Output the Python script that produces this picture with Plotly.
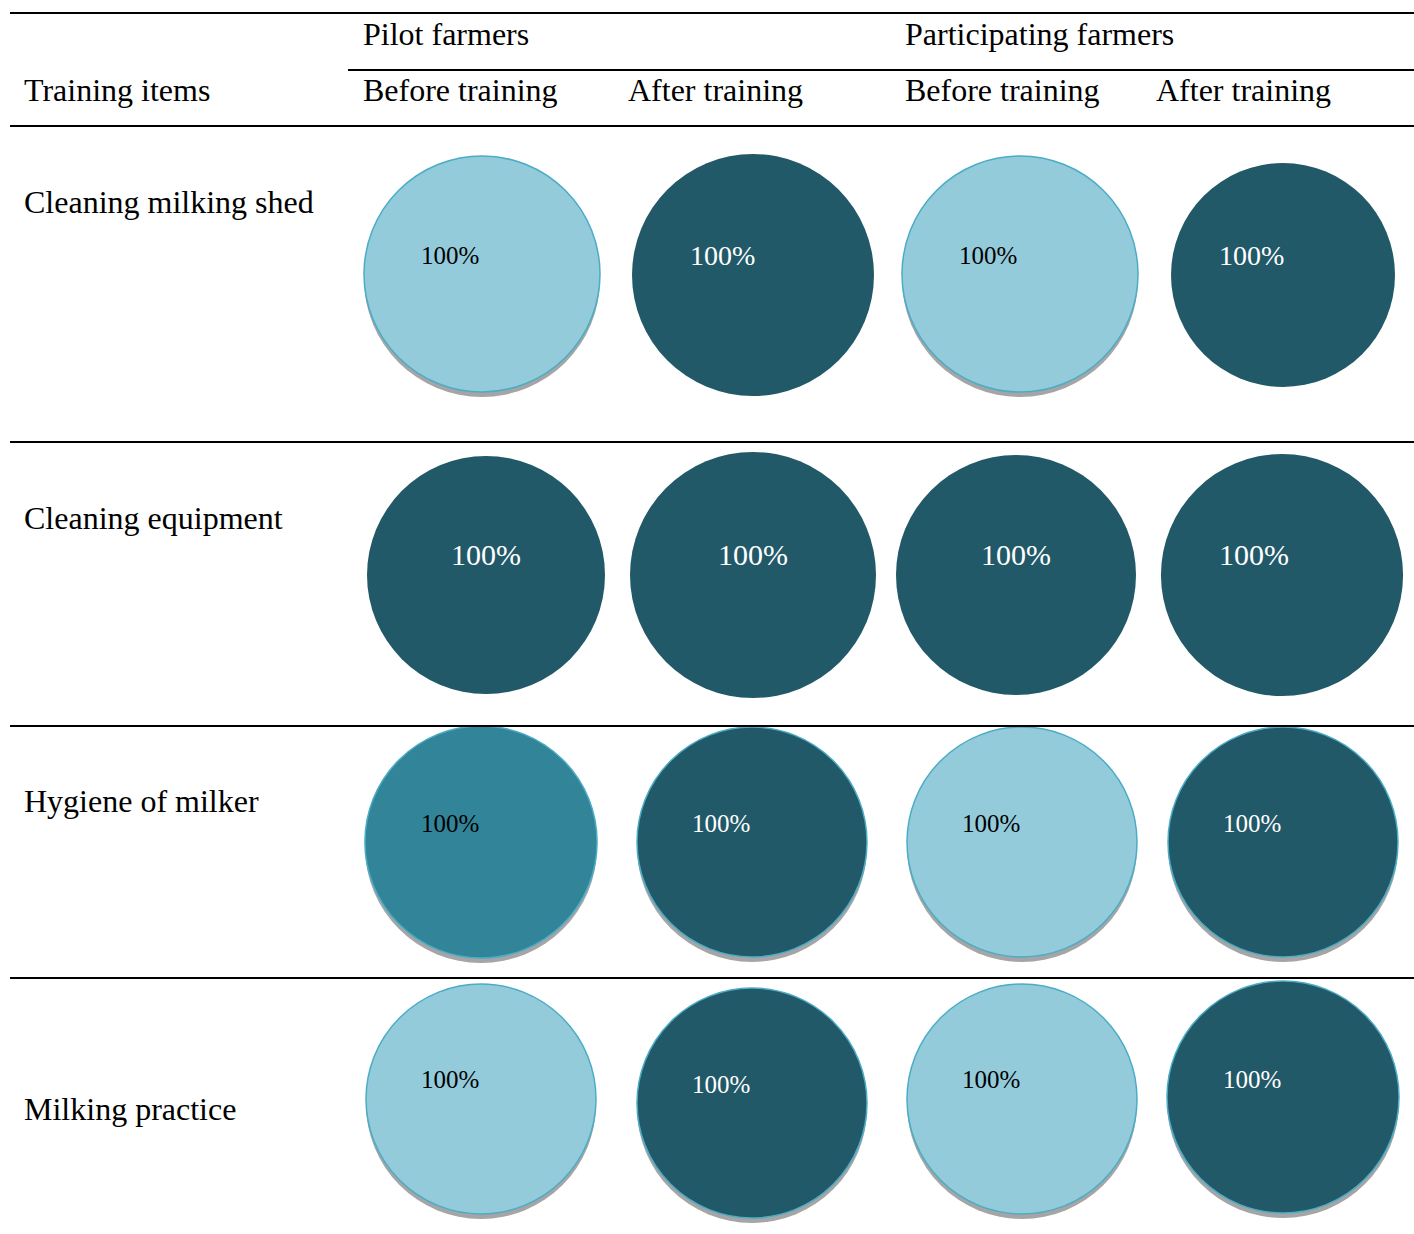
import plotly.graph_objects as go

# ---------------- data ----------------
items = ["Cleaning milking shed", "Cleaning equipment", "Hygiene of milker", "Milking practice"]
groups = ["Pilot farmers", "Participating farmers"]
stages = ["Before training", "After training"]
row_header = "Training items"
# percentage of farmers per cell (row = item, col = group x stage)
percents = [
    [100, 100, 100, 100],
    [100, 100, 100, 100],
    [100, 100, 100, 100],
    [100, 100, 100, 100],
]
# colour class per cell
tones = [
    ["light", "dark", "light", "dark"],
    ["dark", "dark", "dark", "dark"],
    ["mid", "dark", "light", "dark"],
    ["light", "dark", "light", "dark"],
]

# ---------------- styling / layout ----------------
W, H = 1414, 1234
FONT = "Liberation Serif, Times New Roman, serif"
fill = {"light": "#93CBDB", "dark": "#225968", "mid": "#328599"}
txtc = {"light": "#000000", "dark": "#FFFFFF", "mid": "#000000"}
edge = "#4BACC6"

# pixel geometry of each cell (centre x, centre y, radius)
geom = [
    [(482, 274, 118), (753, 275, 121), (1020, 274, 118), (1283, 275, 112)],
    [(486, 575, 119), (753, 575, 123), (1016, 575, 120), (1282, 575, 121)],
    [(481, 842, 116), (752, 842, 115), (1022, 842, 115), (1283, 842, 115)],
    [(481, 1099, 115), (752, 1103, 115), (1022, 1099, 115), (1283, 1097, 116)],
]
label_pos = [
    [(450, 255), (722, 255), (988, 255), (1251, 255)],
    [(486, 554), (753, 554), (1016, 554), (1254, 554)],
    [(450, 823), (721, 823), (991, 823), (1252, 823)],
    [(450, 1079), (721, 1084), (991, 1079), (1252, 1079)],
]
label_size = [[25, 28, 25, 28], [30, 30, 30, 30], [25, 25, 25, 25], [25, 25, 25, 25]]
bordered = [[True, False, True, False], [False, False, False, False],
            [True, True, True, True], [True, True, True, True]]

def px(x):
    return x / W

def py(y):
    return 1 - y / H

fig = go.Figure()
annotations = []

for i, item in enumerate(items):
    for j in range(4):
        cx, cy, r = geom[i][j]
        tone = tones[i][j]
        if bordered[i][j]:
            sy = cy + 5
            fig.add_trace(go.Pie(
                values=[percents[i][j]], labels=["shadow"], sort=False,
                domain=dict(x=[px(cx - r), px(cx + r)], y=[py(sy + r), py(sy - r)]),
                marker=dict(colors=["#A5A5A5"], line=dict(width=0)),
                textinfo="none", hoverinfo="skip", showlegend=False,
            ))
        fig.add_trace(go.Pie(
            values=[percents[i][j]], labels=[f"{item} - {groups[j // 2]} - {stages[j % 2]}"],
            sort=False,
            domain=dict(x=[px(cx - r), px(cx + r)], y=[py(cy + r), py(cy - r)]),
            marker=dict(colors=[fill[tone]],
                        line=dict(color=edge if bordered[i][j] else fill[tone],
                                  width=1.5 if bordered[i][j] else 0)),
            textinfo="none", showlegend=False,
        ))
        lx, ly = label_pos[i][j]
        annotations.append(dict(
            x=px(lx), y=py(ly), xref="paper", yref="paper", showarrow=False,
            text=f"{percents[i][j]}%", xanchor="center", yanchor="middle",
            font=dict(family=FONT, size=label_size[i][j], color=txtc[tone]),
        ))

# header texts
hdr_font = dict(family=FONT, size=32, color="#000000")
def add_text(t, x, y):
    annotations.append(dict(x=px(x), y=py(y), xref="paper", yref="paper", showarrow=False,
                            text=t, xanchor="left", yanchor="middle", font=hdr_font))

add_text(groups[0], 361, 34)
add_text(groups[1], 903, 34)
add_text(row_header, 22, 90)
add_text(stages[0], 361, 90)
add_text(stages[1], 626, 90)
add_text(stages[0], 903, 90)
add_text(stages[1], 1154, 90)
row_label_y = [202, 518, 801, 1109]
for item, yy in zip(items, row_label_y):
    add_text(item, 22, yy)

# table rules
shapes = []
def hline(x0, x1, y, w=2):
    shapes.append(dict(type="line", xref="paper", yref="paper",
                       x0=px(x0), x1=px(x1), y0=py(y), y1=py(y),
                       line=dict(color="#000000", width=w)))

hline(10, 1414, 13)
hline(348, 1414, 70)
hline(10, 1414, 126)
hline(10, 1414, 442)
hline(10, 1414, 726)
hline(10, 1414, 978)

fig.update_layout(
    width=W, height=H,
    margin=dict(l=0, r=0, t=0, b=0),
    paper_bgcolor="#FFFFFF", plot_bgcolor="#FFFFFF",
    annotations=annotations, shapes=shapes,
    showlegend=False,
)

fig.write_html("out.html",
               config={"displayModeBar": False},
               post_script="document.body.style.margin='0';document.body.style.overflow='hidden';")
